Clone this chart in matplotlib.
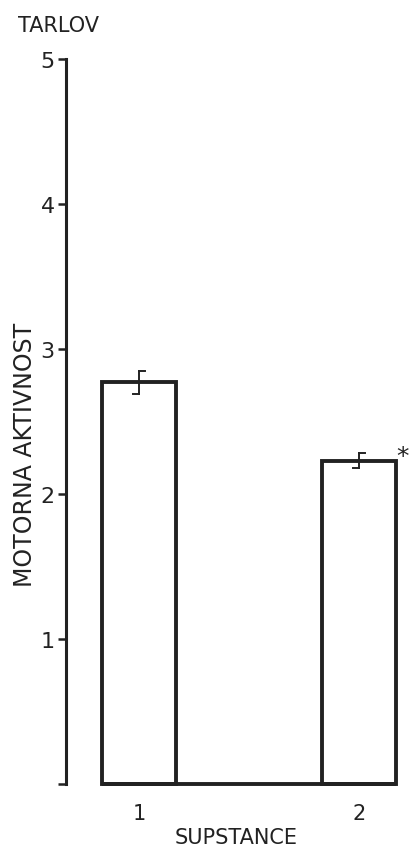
import matplotlib.pyplot as plt
import numpy as np

# data
groups = ["1", "2"]
activity = [2.77, 2.23]
errors = [0.08, 0.05]
significant = [False, True]

ytick_values = [0, 1, 2, 3, 4, 5]
ytick_labels = ["", "1", "2", "3", "4", "5"]

title_text = "TARLOV"
xlabel_text = "SUPSTANCE"
ylabel_text = "MOTORNA AKTIVNOST"

ink = "#222222"
bar_w = 0.34
cap = 0.027

fig = plt.figure(figsize=(4.12, 8.53), dpi=100)
ax = fig.add_axes([0.160, 0.0797, 0.840, 0.850])

x = np.arange(1, len(groups) + 1)
ax.bar(x, activity, width=bar_w, color="white", edgecolor=ink, linewidth=2.8, clip_on=False)

# baseline joining the bars
ax.plot([x[0] - bar_w / 2, x[-1] + bar_w / 2], [0, 0], color=ink, lw=2.8, clip_on=False,
        solid_capstyle="butt")

# small bracket-like error marks
for xi, yi, ei, sig in zip(x, activity, errors, significant):
    ax.plot([xi, xi], [yi - ei, yi + ei], color=ink, lw=1.4)
    ax.plot([xi, xi + cap], [yi + ei, yi + ei], color=ink, lw=1.4)
    ax.plot([xi - cap, xi], [yi - ei, yi - ei], color=ink, lw=1.4)
    if sig:
        ax.text(xi + bar_w / 2 + 0.03, yi + 0.03, "*", fontsize=18, color=ink,
                ha="center", va="center")

ax.set_xlim(0.668, 2.241)
ax.set_ylim(0, 5)

for side in ["top", "right", "bottom"]:
    ax.spines[side].set_visible(False)
ax.spines["left"].set_linewidth(2.2)
ax.spines["left"].set_color(ink)
ax.spines["left"].set_bounds(0, 5)

ax.set_yticks(ytick_values)
ax.set_yticklabels(ytick_labels, fontsize=16, color=ink)
ax.tick_params(axis="y", length=6, width=1.8, color=ink, pad=2)

ax.set_xticks(x)
ax.set_xticklabels(groups, fontsize=15, color=ink)
ax.tick_params(axis="x", length=0, pad=14)

ax.set_xlabel(xlabel_text, fontsize=15, color=ink)
ax.xaxis.set_label_coords((236 - 66) / 346, -0.059)
ax.set_ylabel(ylabel_text, fontsize=17, color=ink)
ax.yaxis.set_label_coords(-0.085, 0.455)

fig.text(18 / 412, 1 - 16 / 853, title_text, fontsize=15, color=ink, ha="left", va="top")

fig.savefig("out.png", dpi=100, facecolor="white")
